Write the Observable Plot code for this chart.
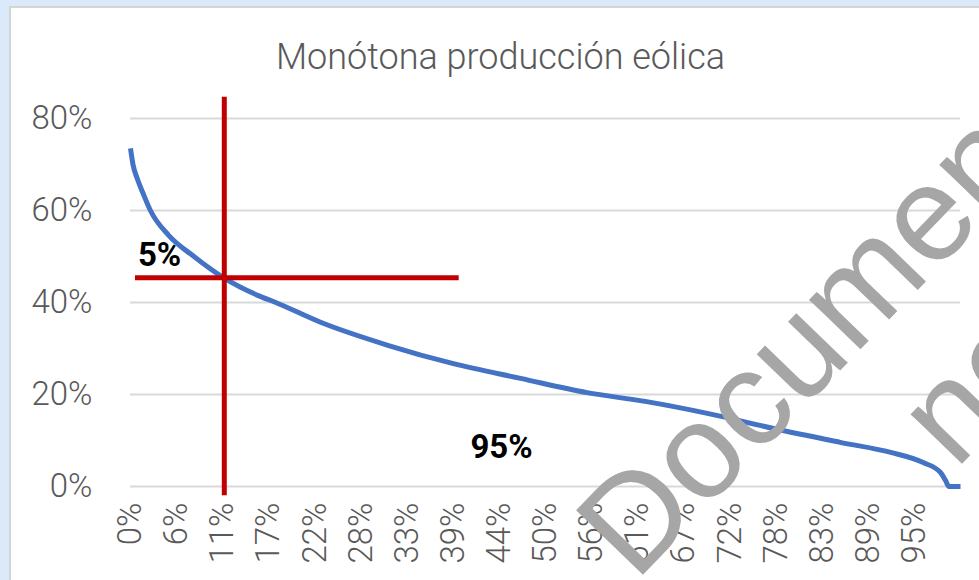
<!DOCTYPE html>
<html>
<head>
<meta charset="utf-8">
<script src="https://cdn.jsdelivr.net/npm/d3@7"></script>
<script src="https://cdn.jsdelivr.net/npm/@observablehq/plot@0.6"></script>
<style>
  html, body { margin: 0; padding: 0; }
  body { width: 979px; height: 580px; background: #dbeafa; position: relative; overflow: hidden; font-family: Roboto, sans-serif; }
  #panel { position: absolute; left: 9px; top: 6px; right: -2px; bottom: -2px; background: #fff; border-left: 2px solid #d4d4d4; border-top: 2px solid #d4d4d4; }
  #chart { position: absolute; left: 0; top: 0; }
</style>
</head>
<body>
<div id="panel"></div>
<div id="chart"></div>
<script>
// Title and annotations
const chartTitle = "Monótona producción eólica";
const watermarkLines = ["Documento", "no válido"];

// Duration curve: share of time (x) vs wind production share (y)
const timeShare = [0, 0.003, 0.008, 0.015, 0.024, 0.046, 0.075, 0.112, 0.154, 0.175, 0.229, 0.31, 0.389, 0.47, 0.55, 0.62, 0.695, 0.775, 0.855, 0.916, 0.955, 0.976, 0.982, 0.986, 1.0];
const windShare = [0.735, 0.70, 0.67, 0.638, 0.60, 0.546, 0.502, 0.454, 0.415, 0.40, 0.357, 0.307, 0.267, 0.235, 0.204, 0.185, 0.159, 0.126, 0.096, 0.074, 0.052, 0.030, 0.013, 0, 0];

// Axis ticks
const yTicks = [0, 0.2, 0.4, 0.6, 0.8];
const xTickLabels = ["0%", "6%", "11%", "17%", "22%", "28%", "33%", "39%", "44%", "50%", "56%", "61%", "67%", "72%", "78%", "83%", "89%", "95%"];

// Red crosshair marking the 5% threshold
const crossX = 0.113;
const crossY = 0.454;
const vLineExtent = [-0.02, 0.846];
const hLineExtent = [0.006, 0.396];

// Text annotations
const annotations = [
  {label: "5%", x: 0.035, y: 0.48},
  {label: "95%", x: 0.447, y: 0.061}
];
const watermarkAnchors = [
  {x: 0.608, y: -0.209},
  {x: 0.994, y: 0.035}
];

const data = timeShare.map((t, i) => ({t, v: windShare[i]}));
const xTickPos = xTickLabels.map((_, i) => i / 18);
const xLabelMap = new Map(xTickPos.map((p, i) => [p, xTickLabels[i]]));

const plot = Plot.plot({
  width: 979,
  height: 580,
  marginLeft: 130,
  marginRight: 19,
  marginTop: 118,
  marginBottom: 94,
  style: {background: "transparent", color: "#595959", fontFamily: "Roboto", fontSize: "33px", fontWeight: 300, overflow: "visible"},
  x: {domain: [0, 1], ticks: xTickPos, tickFormat: d => xLabelMap.get(d), tickRotate: -90, tickSize: 0, tickPadding: 16, label: null},
  y: {domain: [0, 0.8], ticks: yTicks, tickFormat: d3.format(".0%"), tickSize: 0, tickPadding: 38, label: null},
  marks: [
    Plot.ruleY(yTicks, {stroke: "#d9d9d9", strokeWidth: 2}),
    Plot.line(data, {x: "t", y: "v", stroke: "#4472c4", strokeWidth: 5, curve: "monotone-x", strokeLinejoin: "round", strokeLinecap: "butt"}),
    Plot.ruleX([crossX], {y1: vLineExtent[0], y2: vLineExtent[1], stroke: "#c00000", strokeWidth: 5}),
    Plot.ruleY([crossY], {x1: hLineExtent[0], x2: hLineExtent[1], stroke: "#c00000", strokeWidth: 5}),
    Plot.text(annotations, {x: "x", y: "y", text: "label", fontSize: 33, fontWeight: 700, fill: "#000", textAnchor: "middle", lineAnchor: "bottom", fontFamily: "Roboto"}),
    Plot.text([chartTitle], {frameAnchor: "top", dx: -45, dy: -50, lineAnchor: "bottom", fontSize: 36, fontWeight: 300, fill: "#595959", fontFamily: "Roboto"}),
    Plot.text(watermarkAnchors, {x: "x", y: "y", text: (d, i) => watermarkLines[i], rotate: -46, textAnchor: "start", lineAnchor: "bottom", fontSize: 135, fontFamily: "Liberation Sans", fill: "#a6a6a6", fontWeight: 400})
  ]
});
document.getElementById("chart").appendChild(plot);
</script>
</body>
</html>
